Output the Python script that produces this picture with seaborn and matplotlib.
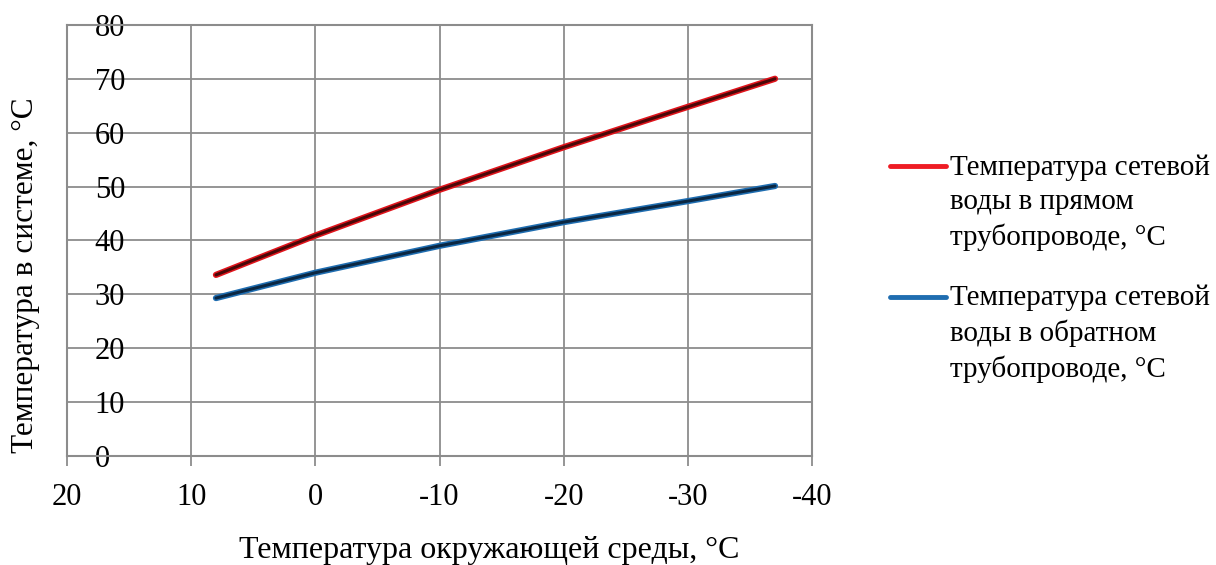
import matplotlib
matplotlib.use("Agg")
import numpy as np
import matplotlib.pyplot as plt
import matplotlib.patheffects as pe
from matplotlib.lines import Line2D
from matplotlib.legend_handler import HandlerLine2D
import pandas as pd
import seaborn as sns

# outdoor temperature, deg C
t_outdoor = [8, 0, -10, -20, -30, -37]
# supply and return water temperatures, deg C
t_supply = [33.6, 40.9, 49.4, 57.3, 64.8, 70.0]
t_return = [29.3, 34.0, 39.0, 43.4, 47.3, 50.1]

label_supply = "Температура сетевой\nводы в прямом\nтрубопроводе, °С"
label_return = "Температура сетевой\nводы в обратном\nтрубопроводе, °С"

df = pd.DataFrame({"x": t_outdoor, "supply": t_supply, "ret": t_return})

sns.set_style("white")
plt.rcParams["font.family"] = ["Liberation Serif", "DejaVu Serif"]
plt.rcParams["text.color"] = "black"
plt.rcParams["axes.labelcolor"] = "black"
plt.rcParams["xtick.labelcolor"] = "black"
plt.rcParams["ytick.labelcolor"] = "black"

LEG_FS = 21
LEG_LS = 1.4


class TopLineHandler(HandlerLine2D):
    # put the legend line next to the first row of a 3-row label
    def create_artists(self, legend, orig_handle, xdescent, ydescent,
                       width, height, fontsize, trans):
        arts = super().create_artists(legend, orig_handle, xdescent, ydescent,
                                      width, height, fontsize, trans)
        for a in arts:
            a.set_ydata(np.asarray(a.get_ydata()) + 1.24 * fontsize)
        return arts


fig = plt.figure(figsize=(12.16, 5.65), dpi=100)
ax = fig.add_axes([0.055, 0.193, 0.613, 0.763])

grid_c = "#8c8c8c"
sns.lineplot(data=df, x="x", y="supply", ax=ax, color="#4a0808", linewidth=2.2,
             path_effects=[pe.Stroke(linewidth=4.5, foreground="#e0141c"), pe.Normal()])
sns.lineplot(data=df, x="x", y="ret", ax=ax, color="#0b2742", linewidth=2.2,
             path_effects=[pe.Stroke(linewidth=4.5, foreground="#1f6db0"), pe.Normal()])

ax.set_xlim(20, -40)
ax.set_ylim(0, 80)
ax.set_xticks(range(20, -41, -10))
ax.set_yticks(range(0, 81, 10))
ax.set_xticklabels([str(v) for v in range(20, -41, -10)])
ax.grid(True, color=grid_c, linewidth=1.3)
for s in ax.spines.values():
    s.set_color(grid_c)
    s.set_linewidth(1.5)

ax.tick_params(axis="x", length=7, width=1.3, color=grid_c, pad=12.5, labelsize=22, direction="out", bottom=True)
ax.tick_params(axis="y", length=0, pad=-20, labelsize=22)
for lab in ax.get_yticklabels():
    lab.set_horizontalalignment("left")

ax.set_xlabel("Температура окружающей среды, °С", fontsize=23)
ax.set_ylabel("Температура в системе, °С", fontsize=22.5)
ax.xaxis.set_label_coords(0.567, -0.186)
ax.yaxis.set_label_coords(-0.036, 0.42)

handles = [Line2D([], [], color="#ee1c24", linewidth=3.5),
           Line2D([], [], color="#1f6db0", linewidth=3.5)]
leg = fig.legend(handles, [label_supply, label_return], loc="upper left",
                 bbox_to_anchor=(0.732, 0.727), frameon=False, fontsize=LEG_FS,
                 handlelength=1.9, handletextpad=0.17, labelspacing=1.15,
                 borderpad=0, borderaxespad=0,
                 handler_map={Line2D: TopLineHandler()})
for t in leg.get_texts():
    t.set_linespacing(LEG_LS)

fig.savefig("out.png", dpi=100)
